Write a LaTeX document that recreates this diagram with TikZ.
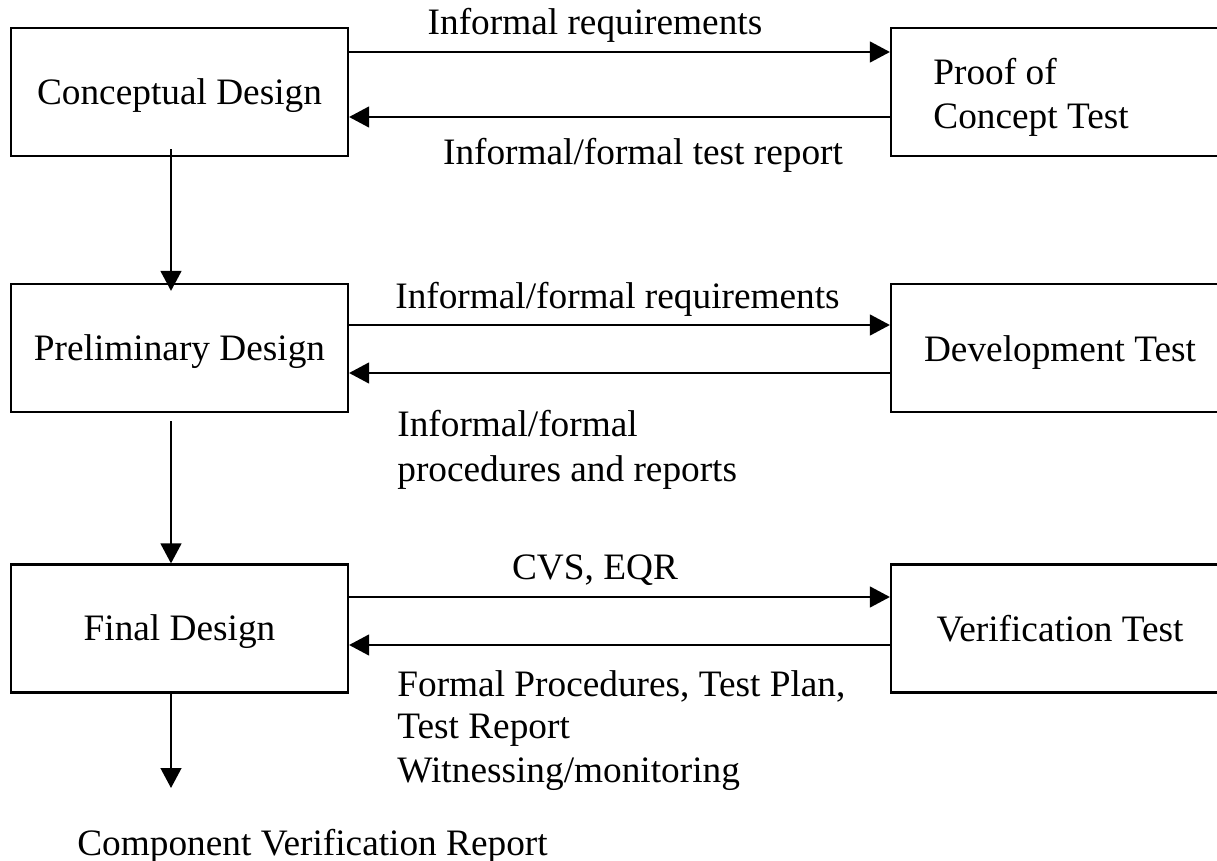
\documentclass[tikz,border=0pt]{standalone}
\usepackage{fontspec}
\setmainfont{Liberation Serif}
\usetikzlibrary{arrows.meta}
\tikzset{
  box/.style={draw, line width=1.1pt, minimum width=168.5pt, minimum height=64pt,
    inner sep=0pt, text height=12.3pt, text depth=0pt, font=\fontsize{18.65}{21}\selectfont},
  rbox/.style={box, minimum width=174pt},
  lbl/.style={inner sep=0pt, font=\fontsize{18.65}{21}\selectfont},
  arr/.style={line width=1pt, -{Triangle[length=10pt,width=10.4pt]}}
}
\begin{document}
\begin{tikzpicture}[x=0.5pt,y=-0.5pt]
\useasboundingbox (0,0) rectangle (1217,861);
\clip (0,0) rectangle (1217,861);
\fill[white] (0,0) rectangle (1217,861);

% left boxes
\node[box] (c1) at (179.5,92) {Conceptual Design};
\node[box] (c2) at (179.5,348) {Preliminary Design};
\node[box] (c3) at (179.5,628.5) {Final Design};

% right boxes
\node[rbox] (p1) at (1065,92) {};
\node[lbl, anchor=base west] (p1a) at (933,85) {Proof of};
\node[lbl, anchor=base west] (p1b) at (933,129) {Concept Test};
\node[rbox] (p2) at (1065,348) {};
\node[lbl] (p2t) at (1060,349) [text height=12.3pt, text depth=0pt] {Development Test};
\node[rbox] (p3) at (1065,628.5) {};
\node[lbl] (p3t) at (1060,629) [text height=12.3pt, text depth=0pt] {Verification Test};

% horizontal connectors
\draw[arr] (c1.east |- 0,52) -- (p1.west |- 0,52);
\draw[arr] (p1.west |- 0,117) -- (c1.east |- 0,117);
\draw[arr] (c2.east |- 0,325) -- (p2.west |- 0,325);
\draw[arr] (p2.west |- 0,373) -- (c2.east |- 0,373);
\draw[arr] (c3.east |- 0,597) -- (p3.west |- 0,597);
\draw[arr] (p3.west |- 0,645) -- (c3.east |- 0,645);

% vertical connectors
\draw[arr] ([xshift=-4.25pt,yshift=4pt]c1.south) -- ([xshift=-4.25pt,yshift=-4pt]c2.north);
\draw[arr] ([xshift=-4.25pt,yshift=-4pt]c2.south) -- ([xshift=-4.25pt]c3.north);
\coordinate (out) at (171,788);
\draw[arr] ([xshift=-4.25pt]c3.south) -- (out);

% labels
\node[lbl, anchor=base] (l1) at (595,35) {Informal requirements};
\node[lbl, anchor=base] (l2) at (643,165) {Informal/formal test report};
\node[lbl, anchor=base] (l3) at (617.5,309) {Informal/formal requirements};
\node[lbl, anchor=base west] (l4a) at (397,437) {Informal/formal};
\node[lbl, anchor=base west] (l4b) at (397,481) {procedures and reports};
\node[lbl, anchor=base] (l5) at (595,580) {CVS, EQR};
\node[lbl, anchor=base west] (l6a) at (397,696) {Formal Procedures, Test Plan,};
\node[lbl, anchor=base west] (l6b) at (397,738) {Test Report};
\node[lbl, anchor=base west] (l6c) at (397,782) {Witnessing/monitoring};
\node[lbl, anchor=base] (l7) at (312.5,855) {Component Verification Report};
\end{tikzpicture}
\end{document}
